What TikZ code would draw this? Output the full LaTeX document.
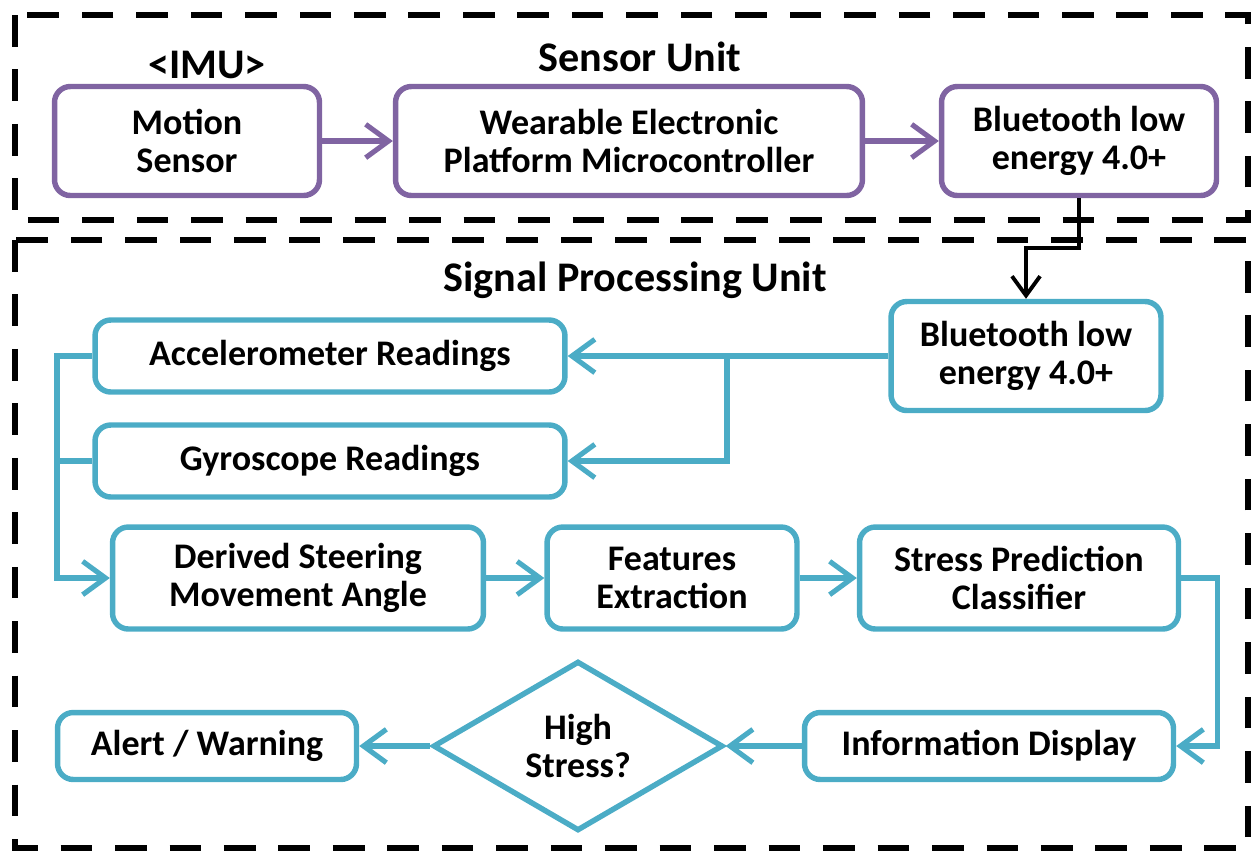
\documentclass[tikz,border=0pt]{standalone}
\usepackage{fontspec}
\setmainfont{Carlito}
\usepackage{tikz}
\usetikzlibrary{positioning,arrows.meta,shapes.geometric}

\definecolor{imupurple}{RGB}{128,100,162}
\definecolor{procblue}{RGB}{75,172,198}

\begin{document}
\begin{tikzpicture}[x=0.02cm, y=-0.02cm]
            \tikzstyle{unitframe}=[draw=black, line width=3.8pt, dash pattern=on 18pt off 13pt]
            \tikzstyle{title}=[font=\fontsize{24}{26}\selectfont\bfseries]
            \tikzstyle{sensorbox}=[draw=imupurple, line width=3.1pt, rounded corners=9pt, align=center,
                    minimum height=2.18cm, font=\fontsize{20.5}{22}\selectfont\bfseries]
            \tikzstyle{procbox}=[draw=procblue, line width=3.1pt, rounded corners=9pt, align=center,
                    font=\fontsize{20.5}{22}\selectfont\bfseries]
            \tikzstyle{decision}=[diamond, draw=procblue, line width=3.1pt, align=center, inner sep=0pt,
                    font=\fontsize{20.5}{22}\selectfont\bfseries]
            \tikzstyle{sensorarrow}=[draw=imupurple, line width=2.9pt, -{Straight Barb[length=13pt,width=19pt]}]
            \tikzstyle{procarrow}=[draw=procblue, line width=2.9pt, -{Straight Barb[length=13pt,width=19pt]}]
            \tikzstyle{procline}=[draw=procblue, line width=2.9pt]
            \tikzstyle{linkarrow}=[draw=black, line width=2.2pt, -{Straight Barb[length=11pt,width=16pt]}]

            \useasboundingbox (0,0) rectangle (1253,850);

            % the two units
            \draw[unitframe] (15,15) rectangle (1248,220);
            \draw[unitframe] (15,240) rectangle (1248,848);
            \node[title] (sensortitle) at (640,57)  {Sensor Unit};
            \node[title] (imutitle)    at (207,65)  {<IMU>};
            \node[title] (proctitle)   at (635,280) {Signal Processing Unit};

            % sensor unit
            \node[sensorbox, minimum width=5.3cm]  (motion)   at (187,141)  {Motion\\Sensor};
            \node[sensorbox, minimum width=9.34cm] (wearable) at (629,141)  {Wearable Electronic\\Platform Microcontroller};
            \node[sensorbox, minimum width=5.5cm]  (bleout)   at (1079,141) {Bluetooth low\\energy 4.0+};

            % signal processing unit
            \node[procbox, minimum width=5.4cm, minimum height=2.18cm]  (blein)      at (1026,356) {Bluetooth low\\energy 4.0+};
            \node[procbox, minimum width=9.4cm, minimum height=1.44cm]  (accel)      at (330,356)  {Accelerometer Readings};
            \node[procbox, minimum width=9.4cm, minimum height=1.44cm]  (gyro)       at (330,461)  {Gyroscope Readings};
            \node[procbox, minimum width=7.42cm, minimum height=2.04cm] (steering)   at (298,578)  {Derived Steering\\Movement Angle};
            \node[procbox, minimum width=5.0cm, minimum height=2.04cm]  (features)   at (672,578)  {Features\\Extraction};
            \node[procbox, minimum width=6.38cm, minimum height=2.04cm] (classifier) at (1019,578) {Stress Prediction\\Classifier};
            \node[procbox, minimum width=7.38cm, minimum height=1.34cm] (display)    at (989,746)  {Information Display};
            \node[decision, minimum width=5.8cm, minimum height=3.2cm]  (highstress) at (578,746)  {High\\Stress?};
            \node[procbox, minimum width=5.98cm, minimum height=1.34cm] (alert)      at (207,746)  {Alert / Warning};

            \coordinate (split) at (727,356);
            \coordinate (bus)   at (57,356);

            \path
            (motion)     edge [sensorarrow] (wearable)
            (wearable)   edge [sensorarrow] (bleout)
            (blein)      edge [procarrow]   (accel)
            (steering)   edge [procarrow]   (features)
            (features)   edge [procarrow]   (classifier)
            (display)    edge [procarrow]   (highstress)
            (highstress) edge [procarrow]   (alert)
            ;
            \draw[linkarrow] (bleout.south) -- ++(0,50) -| (blein.north);
            \draw[procarrow] (split) |- (gyro.east);
            \draw[procarrow] (accel.west) -- (bus) |- (steering.west);
            \draw[procline]  (gyro.west) -- (gyro.west -| bus);
            \draw[procarrow] (classifier.east) -- ++(36,0) |- (display.east);
        \end{tikzpicture}
\end{document}
